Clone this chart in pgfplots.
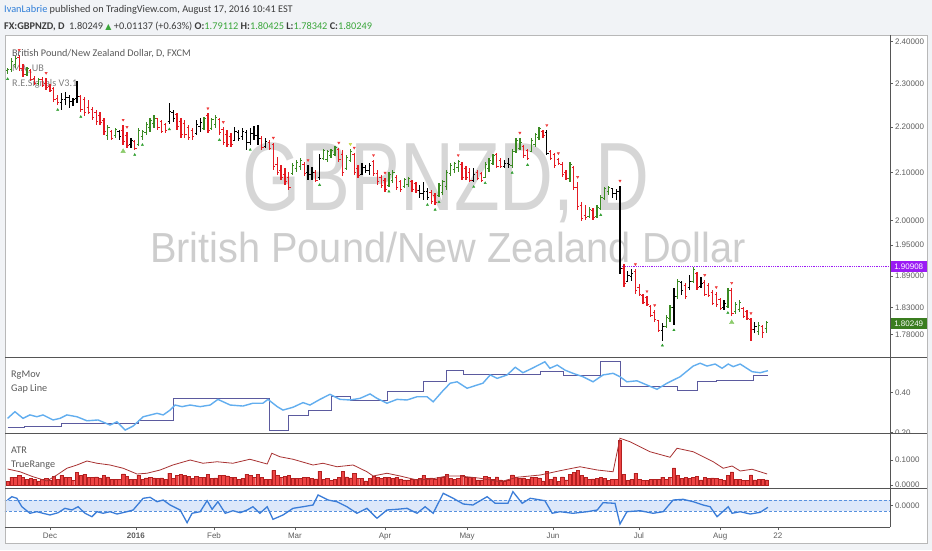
\documentclass[border=0pt]{standalone}
\usepackage{pgfplots}
\pgfplotsset{compat=1.18}
\usepackage{pgfplotstable}
\usepackage{fontspec}
\setmainfont{Liberation Sans}
\newfontfamily\tvfont{Carlito}
\newfontfamily\symfont{DejaVu Sans}

\definecolor{tvred}{HTML}{E41B23}
\definecolor{tvgreen}{HTML}{3A8A22}
\definecolor{tvtxt}{HTML}{3C3C3C}
\definecolor{tvleg}{HTML}{5A5A5A}
\definecolor{tvtick}{HTML}{5E5E5E}
\definecolor{tvblue}{HTML}{2F7ED8}
\definecolor{tvval}{HTML}{3BA63B}
\definecolor{wmark}{HTML}{D6D6D6}
\definecolor{wmark2}{HTML}{CDCDCD}
\definecolor{trired}{HTML}{F03A3A}
\definecolor{trigreen}{HTML}{2E9E2E}
\definecolor{tripale}{HTML}{8BCB6A}
\definecolor{triyel}{HTML}{C8D84A}
\definecolor{rgmov}{HTML}{62AEEF}
\definecolor{gapline}{HTML}{5B5A9E}
\definecolor{atrline}{HTML}{A83232}
\definecolor{trfill}{HTML}{EE4444}
\definecolor{trdraw}{HTML}{B32020}
\definecolor{cciline}{HTML}{3B7DD8}
\definecolor{ccifill}{HTML}{DDE8FA}
\definecolor{lvl}{HTML}{9B1BF5}
\definecolor{lastg}{HTML}{3A7D1F}
\definecolor{framec}{HTML}{B8B8B8}
\definecolor{sepc}{HTML}{555555}
\definecolor{bgc}{HTML}{F1F3F6}

% daily bars: d = bar index, k: 0 down (red), 1 up (green), 2 neutral (black)
% ta: mark above (1 red, 2 yellow), tb: mark below (1 green, 2 pale green)
\pgfplotstableread{
d o h l c k ta tb
0 2.330 2.336 2.322 2.333 1 0 1
1 2.333 2.360 2.328 2.352 1 0 0
2 2.345 2.366 2.336 2.360 1 0 0
3 2.362 2.368 2.330 2.335 0 1 0
4 2.336 2.345 2.315 2.320 0 0 0
5 2.322 2.340 2.318 2.335 1 0 0
6 2.330 2.333 2.305 2.310 0 0 0
7 2.312 2.318 2.296 2.300 0 0 0
8 2.299 2.313 2.296 2.309 1 0 0
9 2.310 2.316 2.292 2.295 0 0 0
10 2.300 2.313 2.285 2.290 0 1 0
11 2.292 2.298 2.280 2.284 0 0 0
12 2.288 2.291 2.256 2.262 0 0 0
13 2.265 2.273 2.250 2.255 0 0 1
14 2.255 2.278 2.239 2.262 2 0 0
15 2.262 2.280 2.250 2.268 2 0 0
16 2.268 2.273 2.243 2.258 2 0 0
17 2.258 2.266 2.248 2.262 2 0 0
18 2.265 2.305 2.255 2.270 2 0 0
19 2.270 2.273 2.234 2.240 0 0 1
20 2.262 2.268 2.224 2.232 0 0 0
21 2.245 2.261 2.229 2.232 0 0 0
22 2.240 2.246 2.216 2.222 0 0 0
23 2.232 2.238 2.205 2.212 0 0 0
24 2.226 2.234 2.205 2.210 0 0 0
25 2.214 2.220 2.182 2.190 0 0 0
26 2.180 2.204 2.171 2.198 1 0 0
27 2.190 2.193 2.171 2.175 0 0 0
28 2.180 2.198 2.175 2.194 1 0 0
29 2.190 2.193 2.171 2.178 2 0 0
30 2.192 2.205 2.160 2.168 0 1 2
31 2.180 2.189 2.154 2.158 0 1 0
32 2.160 2.176 2.154 2.170 2 0 0
33 2.168 2.171 2.149 2.152 0 0 1
34 2.160 2.198 2.158 2.192 1 0 0
35 2.178 2.193 2.171 2.190 1 0 1
36 2.188 2.211 2.182 2.205 1 0 0
37 2.198 2.220 2.189 2.214 1 0 0
38 2.208 2.227 2.198 2.220 1 0 0
39 2.218 2.220 2.193 2.198 0 0 0
40 2.212 2.216 2.187 2.190 0 0 0
41 2.205 2.209 2.187 2.192 0 0 0
42 2.212 2.254 2.206 2.235 2 0 1
43 2.232 2.238 2.211 2.220 2 0 0
44 2.228 2.232 2.193 2.200 0 0 0
45 2.212 2.220 2.176 2.182 0 0 0
46 2.208 2.216 2.176 2.182 0 0 0
47 2.198 2.205 2.171 2.176 0 0 0
48 2.192 2.198 2.171 2.178 0 0 0
49 2.185 2.216 2.182 2.205 2 0 0
50 2.200 2.220 2.189 2.210 2 0 0
51 2.196 2.223 2.193 2.218 1 0 0
52 2.225 2.231 2.187 2.192 0 1 0
53 2.196 2.220 2.193 2.216 1 0 0
54 2.205 2.227 2.198 2.222 1 0 0
55 2.216 2.220 2.182 2.188 0 0 1
56 2.195 2.200 2.160 2.166 0 1 0
57 2.182 2.193 2.156 2.162 0 0 0
58 2.178 2.187 2.156 2.162 0 0 0
59 2.170 2.200 2.168 2.190 2 0 0
60 2.188 2.193 2.169 2.175 2 0 0
61 2.178 2.198 2.171 2.190 2 0 0
62 2.188 2.193 2.149 2.165 2 0 0
63 2.165 2.198 2.160 2.185 2 0 1
64 2.185 2.202 2.171 2.180 2 0 0
65 2.180 2.204 2.160 2.175 2 0 0
66 2.175 2.180 2.149 2.154 0 0 0
67 2.156 2.176 2.154 2.168 2 0 0
68 2.166 2.171 2.149 2.152 0 0 0
69 2.160 2.165 2.106 2.112 0 1 0
70 2.118 2.134 2.095 2.100 0 0 0
71 2.105 2.116 2.084 2.090 0 0 0
72 2.095 2.110 2.074 2.080 0 0 0
73 2.090 2.101 2.063 2.068 0 0 0
74 2.098 2.121 2.095 2.116 1 0 0
75 2.108 2.127 2.101 2.122 1 0 0
76 2.112 2.131 2.105 2.126 1 0 0
77 2.118 2.123 2.093 2.098 0 0 0
78 2.100 2.116 2.084 2.095 2 1 0
79 2.095 2.112 2.084 2.100 2 0 0
80 2.100 2.105 2.080 2.084 0 0 0
81 2.090 2.140 2.084 2.130 2 0 1
82 2.130 2.151 2.127 2.147 1 0 0
83 2.128 2.149 2.122 2.145 1 0 0
84 2.136 2.151 2.131 2.148 1 0 0
85 2.140 2.158 2.136 2.155 1 0 0
86 2.150 2.154 2.122 2.128 0 1 0
87 2.140 2.149 2.093 2.100 0 0 0
88 2.108 2.138 2.105 2.132 1 0 0
89 2.125 2.151 2.122 2.146 1 2 0
90 2.140 2.143 2.095 2.100 0 1 0
91 2.108 2.116 2.089 2.093 0 0 0
92 2.095 2.121 2.095 2.110 2 0 0
93 2.110 2.116 2.099 2.105 2 0 0
94 2.105 2.121 2.095 2.115 2 0 0
95 2.124 2.127 2.093 2.098 0 1 0
96 2.098 2.105 2.074 2.080 0 0 0
97 2.090 2.095 2.068 2.072 0 0 0
98 2.082 2.089 2.059 2.064 0 1 0
99 2.072 2.101 2.070 2.095 1 0 1
100 2.082 2.105 2.078 2.100 1 0 0
101 2.090 2.095 2.063 2.068 0 0 0
102 2.080 2.084 2.059 2.063 0 0 0
103 2.070 2.089 2.068 2.085 1 0 0
104 2.075 2.091 2.070 2.088 1 0 0
105 2.080 2.084 2.059 2.063 0 0 0
106 2.076 2.080 2.057 2.061 0 0 0
107 2.062 2.074 2.046 2.055 2 0 0
108 2.055 2.080 2.042 2.060 2 0 0
109 2.060 2.068 2.042 2.048 2 0 1
110 2.058 2.063 2.034 2.038 0 0 0
111 2.052 2.057 2.032 2.036 0 0 1
112 2.052 2.078 2.048 2.072 1 0 1
113 2.058 2.084 2.053 2.080 1 0 0
114 2.070 2.105 2.063 2.100 1 0 0
115 2.098 2.121 2.093 2.116 1 0 0
116 2.106 2.123 2.099 2.120 1 0 0
117 2.110 2.127 2.101 2.124 1 1 0
118 2.118 2.123 2.084 2.090 0 0 0
119 2.108 2.114 2.084 2.090 0 0 0
120 2.100 2.110 2.080 2.084 0 0 0
121 2.084 2.110 2.080 2.095 2 0 1
122 2.100 2.105 2.084 2.088 0 0 0
123 2.098 2.101 2.080 2.084 0 0 0
124 2.090 2.123 2.088 2.118 1 0 1
125 2.108 2.131 2.101 2.126 1 0 0
126 2.120 2.140 2.116 2.136 1 0 0
127 2.138 2.143 2.110 2.114 0 0 0
128 2.126 2.131 2.110 2.114 0 0 0
129 2.114 2.127 2.110 2.120 2 0 0
130 2.120 2.131 2.110 2.118 2 0 0
131 2.115 2.151 2.110 2.145 1 0 1
132 2.146 2.176 2.143 2.170 1 0 0
133 2.152 2.176 2.149 2.166 1 1 0
134 2.156 2.160 2.131 2.136 0 0 0
135 2.148 2.151 2.127 2.130 0 0 1
136 2.146 2.176 2.145 2.170 1 0 0
137 2.162 2.187 2.156 2.182 1 0 0
138 2.176 2.200 2.171 2.196 1 0 0
139 2.190 2.193 2.176 2.180 0 0 0
140 2.188 2.193 2.138 2.142 2 1 0
141 2.146 2.149 2.127 2.130 0 0 0
142 2.138 2.143 2.110 2.115 0 0 0
143 2.128 2.131 2.116 2.120 0 1 0
144 2.118 2.123 2.090 2.095 0 0 0
145 2.100 2.105 2.084 2.088 0 0 0
146 2.088 2.123 2.080 2.118 1 0 0
147 2.110 2.114 2.063 2.068 0 0 0
148 2.068 2.080 2.021 2.028 0 1 0
149 2.030 2.038 1.998 2.004 0 0 0
150 2.010 2.032 2.001 2.005 0 0 0
151 2.008 2.028 2.005 2.022 1 0 0
152 2.020 2.026 2.001 2.006 0 0 0
153 2.008 2.032 2.005 2.026 1 0 0
154 2.025 2.052 2.021 2.048 1 0 1
155 2.045 2.070 2.042 2.065 1 0 0
156 2.060 2.072 2.053 2.068 1 0 0
157 2.066 2.068 2.046 2.055 2 0 0
158 2.055 2.066 2.042 2.060 2 0 0
159 2.060 2.072 1.893 1.905 2 1 0
160 1.905 1.912 1.868 1.875 0 0 0
161 1.880 1.899 1.879 1.890 2 0 0
162 1.888 1.903 1.879 1.895 2 0 0
163 1.898 1.903 1.855 1.862 0 1 0
164 1.868 1.874 1.851 1.855 0 0 0
165 1.852 1.855 1.837 1.840 0 0 0
166 1.848 1.851 1.833 1.836 0 1 0
167 1.832 1.834 1.812 1.815 0 0 0
168 1.820 1.825 1.803 1.807 0 1 0
169 1.805 1.807 1.784 1.788 0 0 0
170 1.788 1.801 1.769 1.795 2 0 1
171 1.795 1.816 1.792 1.812 1 0 0
172 1.810 1.834 1.803 1.830 1 0 0
173 1.830 1.866 1.797 1.850 2 0 1
174 1.850 1.884 1.846 1.880 1 0 0
175 1.878 1.880 1.853 1.862 2 0 0
176 1.872 1.876 1.846 1.850 0 0 0
177 1.868 1.891 1.863 1.880 2 0 0
178 1.880 1.907 1.876 1.902 1 0 0
179 1.894 1.897 1.863 1.868 0 0 0
180 1.870 1.887 1.866 1.875 2 0 0
181 1.878 1.882 1.851 1.855 0 1 0
182 1.872 1.876 1.849 1.853 0 0 0
183 1.858 1.863 1.834 1.838 0 0 0
184 1.855 1.859 1.831 1.835 0 1 0
185 1.845 1.848 1.825 1.828 0 0 0
186 1.830 1.844 1.825 1.838 2 0 0
187 1.832 1.867 1.829 1.862 1 0 1
188 1.862 1.867 1.814 1.818 0 1 2
189 1.822 1.840 1.818 1.836 1 0 0
190 1.826 1.844 1.822 1.840 1 0 0
191 1.828 1.831 1.811 1.814 0 0 0
192 1.822 1.825 1.807 1.810 0 0 0
193 1.808 1.810 1.769 1.790 0 1 0
194 1.790 1.803 1.782 1.795 2 0 0
195 1.786 1.803 1.780 1.796 1 0 0
196 1.795 1.797 1.773 1.783 0 0 0
197 1.79112 1.80425 1.78342 1.80249 1 0 0
}\bars

\pgfdeclareplotmark{tickl}{\pgfpathmoveto{\pgfqpoint{-1.8pt}{0pt}}\pgfpathlineto{\pgfqpoint{0pt}{0pt}}\pgfusepathqstroke}
\pgfdeclareplotmark{tickr}{\pgfpathmoveto{\pgfqpoint{0pt}{0pt}}\pgfpathlineto{\pgfqpoint{1.8pt}{0pt}}\pgfusepathqstroke}

\pgfplotsset{
  pane/.style={
    scale only axis, width=885pt, xmin=-0.675, xmax=229.1,
    anchor=south west,
    axis y line*=right,
    axis line style={draw=none},
    tick align=outside, major tick length=3pt,
    tick style={color=tvtick, line width=0.5pt},
    yticklabel style={font=\fontsize{8}{9}\selectfont, text=tvtick, xshift=-1.5pt},
  },
}

% one colour group of OHLC bars: #1:#2 range of k, #3 colour
\newcommand\ohlc[3]{%
  \addplot[draw=none, mark=none, restrict expr to domain={\thisrow{k}}{#1:#2},
    error bars/.cd, y dir=both, y explicit, error mark=none,
    error bar style={draw=#3, line width=1.3pt}]
    table[x=d, y=c, y error plus expr=\thisrow{h}-\thisrow{c},
          y error minus expr=\thisrow{c}-\thisrow{l}] {\bars};
  \addplot[#3, only marks, mark=tickl, mark options={line width=1pt},
    restrict expr to domain={\thisrow{k}}{#1:#2}] table[x=d, y=o] {\bars};
  \addplot[#3, only marks, mark=tickr, mark options={line width=1pt},
    restrict expr to domain={\thisrow{k}}{#1:#2}] table[x=d, y=c] {\bars};
}

\begin{document}
\begin{tikzpicture}[x=1pt, y=1pt]
\useasboundingbox (0,0) rectangle (932,550);
\fill[bgc] (0,0) rectangle (932,550);
\fill[white] (5,7) rectangle (927,515);

% header
\node[anchor=base west, inner sep=0pt, text=tvtxt, font=\tvfont\fontsize{10.3}{12}\selectfont] at (4,537)
  {{\color{tvblue}IvanLabrie} published on TradingView.com, August 17, 2016 10:41 EST};
\node[anchor=base west, inner sep=0pt, text=tvtxt, font=\tvfont\fontsize{10.3}{12}\selectfont] at (4,520)
  {\textbf{FX:GBPNZD, D}\ \ 1.80249 {\symfont\fontsize{8}{9}\selectfont\color{tvval}▲}
   +0.01137 (+0.63\%) \textbf{O:}{\color{tvval}1.79112} \textbf{H:}{\color{tvval}1.80425}
   \textbf{L:}{\color{tvval}1.78342} \textbf{C:}{\color{tvval}1.80249}};

% watermarks and pane legends
\node[anchor=base, inner sep=0pt, text=wmark, xscale=0.77, font=\fontsize{97}{97}\selectfont] at (446,340) {GBPNZD, D};
\node[anchor=base, inner sep=0pt, text=wmark2, xscale=0.945, font=\fontsize{42}{42}\selectfont] at (448,288) {British Pound/New Zealand Dollar};
\begin{scope}[every node/.style={anchor=base west, inner sep=0pt, font=\tvfont\fontsize{10.2}{12}\selectfont}]
\node[text=tvleg] at (12,493.5) {British Pound/New Zealand Dollar, D, FXCM};
\node[text=gray] at (12,478.5) {MA\_UB};
\node[text=gray] at (12,463.5) {R.E.Signals V3.1};
\node[text=tvleg] at (11,173) {RgMov};
\node[text=tvleg] at (11,159) {Gap Line};
\node[text=tvleg] at (11,97) {ATR};
\node[text=tvleg] at (11,82.5) {TrueRange};
\node[text=tvleg] at (11,43) {CCI};
\end{scope}

% price pane
\begin{axis}[pane, axis x line=none, at={(5pt,193pt)}, height=322pt, ymode=log, ymin=1.7397, ymax=2.4165,
  ytick={1.78,1.83,1.89,1.95,2.0,2.1,2.2,2.3,2.4},
  yticklabels={1.78000,1.83000,1.89000,1.95000,2.00000,2.10000,2.20000,2.30000,2.40000}]
\addplot[lvl, densely dotted, line width=0.8pt] coordinates {(159,1.90908)(229.1,1.90908)};
\ohlc{-0.5}{0.5}{tvred}
\ohlc{0.5}{1.5}{tvgreen}
\ohlc{1.5}{2.5}{black}
\addplot[only marks, mark=triangle*, mark size=1.3pt, mark options={rotate=180, fill=trired, draw=trired},
  restrict expr to domain={\thisrow{ta}}{0.5:1.5}] table[x=d, y expr=\thisrow{h}*1.005] {\bars};
\addplot[only marks, mark=triangle*, mark size=1.5pt, mark options={rotate=180, fill=triyel, draw=triyel},
  restrict expr to domain={\thisrow{ta}}{1.5:2.5}] table[x=d, y expr=\thisrow{h}*1.005] {\bars};
\addplot[only marks, mark=triangle*, mark size=1.3pt, mark options={fill=trigreen, draw=trigreen},
  restrict expr to domain={\thisrow{tb}}{0.5:1.5}] table[x=d, y expr=\thisrow{l}*0.995] {\bars};
\addplot[only marks, mark=triangle*, mark size=2.6pt, mark options={fill=tripale, draw=tripale},
  restrict expr to domain={\thisrow{tb}}{1.5:2.5}] table[x=d, y expr=\thisrow{l}*0.9935] {\bars};
\end{axis}

% RgMov / Gap Line pane
\begin{axis}[pane, axis x line=none, at={(5pt,117pt)}, height=76pt, ymin=0.1985, ymax=0.5748,
  ytick={0.2,0.4}, yticklabels={0.20,0.40}]
\addplot[gapline, line width=0.9pt, const plot] coordinates {
(0,0.225)(4.5,0.233)(14,0.247)(34,0.260)(43,0.370)(68,0.213)(73,0.283)(78,0.312)
(84,0.378)(89,0.362)(98.5,0.403)(108,0.452)(114,0.507)(118.3,0.486)(138.3,0.502)
(144.2,0.481)(154,0.551)(159,0.431)(174,0.411)(179,0.452)(184,0.461)(193.6,0.481)(197.3,0.481)};
\addplot[rgmov, line width=1.4pt] coordinates {
(0,0.271)(1.9,0.304)(4,0.271)(5.8,0.288)(7.6,0.279)(9.2,0.288)(11.8,0.263)(13.6,0.271)
(15.4,0.288)(18,0.279)(20.6,0.259)(23.5,0.263)(26.6,0.238)(28.4,0.254)(30.5,0.213)
(32.6,0.233)(35.2,0.279)(38.8,0.296)(40.4,0.288)(42.2,0.312)(43.5,0.337)(45.3,0.329)
(47.4,0.337)(50,0.329)(52.6,0.337)(54.6,0.365)(57.8,0.337)(61.1,0.332)(63.7,0.346)
(66.3,0.346)(67.6,0.365)(70,0.329)(71.5,0.312)(74.1,0.326)(76.7,0.349)(78.5,0.337)
(81.1,0.365)(83.7,0.390)(86.3,0.365)(88.9,0.362)(91.5,0.370)(94.1,0.392)(95.9,0.370)
(98.5,0.346)(101.1,0.365)(103.7,0.362)(106.3,0.378)(108.9,0.378)(110.5,0.353)
(112.8,0.403)(114.9,0.445)(116.7,0.452)(119.3,0.420)(121.9,0.436)(123.4,0.445)
(125.3,0.486)(127.1,0.469)(129.7,0.486)(131.8,0.524)(133.8,0.497)(136.2,0.519)
(139.5,0.551)(140.8,0.519)(142.7,0.535)(144.7,0.510)(146.8,0.494)(149.4,0.477)
(152,0.452)(154.6,0.486)(157.2,0.494)(159,0.477)(160.8,0.452)(163.4,0.457)(166,0.436)
(168.6,0.415)(171.2,0.445)(174.6,0.477)(178,0.530)(179.8,0.544)(181.6,0.530)
(183.7,0.540)(185.5,0.519)(187.1,0.540)(188.4,0.527)(190.2,0.540)(193.3,0.502)
(195.4,0.497)(197.4,0.507)};
\end{axis}
\fill[white] (890.5,62) rectangle (926.5,116.5);

% ATR / TrueRange pane
\begin{axis}[pane, axis x line=none, at={(5pt,62pt)}, height=55pt, ymin=-0.012, ymax=0.208,
  ytick={0,0.1}, yticklabels={0.0000,0.1000}]
\addplot[ybar, bar width=0.85, fill=trfill, draw=trdraw, line width=0.4pt]
  table[x=d, y expr=\thisrow{h}-\thisrow{l}] {\bars};
\addplot[atrline, line width=0.8pt] coordinates {
(0,0.064)(3.2,0.053)(6.6,0.033)(10.2,0.016)(12.8,0.040)(15.4,0.067)(18,0.080)(20.6,0.096)
(23.2,0.087)(26.6,0.080)(30,0.067)(33.6,0.044)(36.2,0.047)(39.6,0.060)(42.9,0.080)
(47.4,0.100)(50.7,0.087)(54.4,0.093)(58.5,0.087)(62.9,0.103)(67.4,0.084)(68.6,0.127)
(70.7,0.113)(74.1,0.103)(79.3,0.080)(81.9,0.087)(85.5,0.073)(89.7,0.080)(93.3,0.053)
(94.9,0.036)(98.5,0.047)(101.9,0.036)(106.3,0.020)(109.7,0.023)(114.1,0.036)
(117.5,0.036)(122.7,0.027)(127.9,0.013)(132.3,0.031)(138.3,0.040)(143.4,0.057)
(148.6,0.073)(153.1,0.060)(157.2,0.053)(159,0.187)(161.6,0.173)(166.8,0.133)(172,0.111)
(173.8,0.147)(178,0.133)(183.2,0.093)(185.8,0.067)(188.1,0.076)(190.2,0.056)
(193.3,0.063)(197.2,0.044)};
\end{axis}
\fill[white] (890.5,23) rectangle (926.5,61.5);

% CCI pane
\begin{axis}[pane, at={(5pt,23pt)}, height=39pt, ymin=-373.7, ymax=310.5,
  ytick={0}, yticklabels={0.0000},
  axis x line*=bottom,
  xtick={11,33.3,53.6,74.6,98,119.3,141.6,163.9,185,200},
  xticklabels={Dec,\textbf{2016},Feb,Mar,Apr,May,Jun,Jul,Aug,22},
  xticklabel style={font=\fontsize{8}{9}\selectfont, text=tvtick, yshift=1pt}]
\fill[ccifill] (axis cs:-1,-100) rectangle (axis cs:230,100);
\draw[cciline!85, densely dashed, line width=0.5pt] (axis cs:-1,100) -- (axis cs:230,100);
\draw[cciline!85, densely dashed, line width=0.5pt] (axis cs:-1,-100) -- (axis cs:230,-100);
\addplot[cciline, line width=1.3pt] coordinates {
(0,100)(1.1,158)(2.4,130)(3.7,-18)(5.8,-133)(7.6,-105)(9.2,-133)(11,-163)(13.1,-123)
(14.9,-46)(16.7,-75)(18.3,-18)(20.1,-133)(21.9,-193)(23.2,-105)(24.8,-133)(26.6,-105)
(28.4,-146)(31,-105)(32.6,-75)(35.2,130)(37,147)(38.8,70)(40.4,100)(42.2,12)(44.8,-75)
(46.6,-298)(47.9,-133)(50,-105)(51.8,88)(53.1,-63)(54.6,70)(56.5,-133)(58.5,-88)
(60.4,-123)(62.2,-75)(63.7,-18)(65.5,-133)(67.4,-18)(68.9,-239)(71.5,-163)(74.1,-46)
(76.7,-18)(79.3,12)(80.6,188)(83.2,100)(85.5,70)(88.1,-18)(90.7,-133)(93.3,-46)
(95.9,-221)(98.5,-75)(101.1,-63)(103.7,-46)(106.3,-133)(108.4,-18)(110.5,-133)
(113.1,218)(115.7,130)(118.3,30)(120.8,12)(124.5,158)(126.6,42)(129.9,42)(131.2,246)
(133.6,42)(135.7,130)(139.5,88)(141.4,-133)(143.4,-105)(146.8,-133)(150.5,-105)
(153.1,-75)(154.6,53)(157.7,42)(159,-321)(160.8,-105)(164.2,-88)(167.6,-133)(170.2,-105)
(172.8,100)(175.4,112)(178,70)(180.6,12)(182.4,-18)(184.2,-193)(187.1,-18)(188.1,-133)
(190.2,-105)(192.8,-146)(195.4,-116)(197.4,-28)};
\end{axis}

% frame, separators and price labels
\draw[framec, line width=0.8pt] (5,7) rectangle (927,515);
\draw[sepc, line width=1pt] (890,23) -- (890,515);
\draw[sepc, line width=1pt] (5,193) -- (927,193);
\draw[sepc, line width=1pt] (5,117) -- (927,117);
\draw[sepc, line width=1pt] (5,62) -- (927,62);
\draw[sepc, line width=1pt] (5,23) -- (890,23);
\node[fill=lvl, text=white, inner sep=0pt, minimum width=36pt, minimum height=11pt,
  font=\fontsize{8}{9}\selectfont, anchor=west] at (890.5,283.3) {1.90908};
\node[fill=lastg, text=white, inner sep=0pt, minimum width=36pt, minimum height=11pt,
  font=\fontsize{8}{9}\selectfont, anchor=west] at (890.5,226.5) {1.80249};
\end{tikzpicture}
\end{document}
